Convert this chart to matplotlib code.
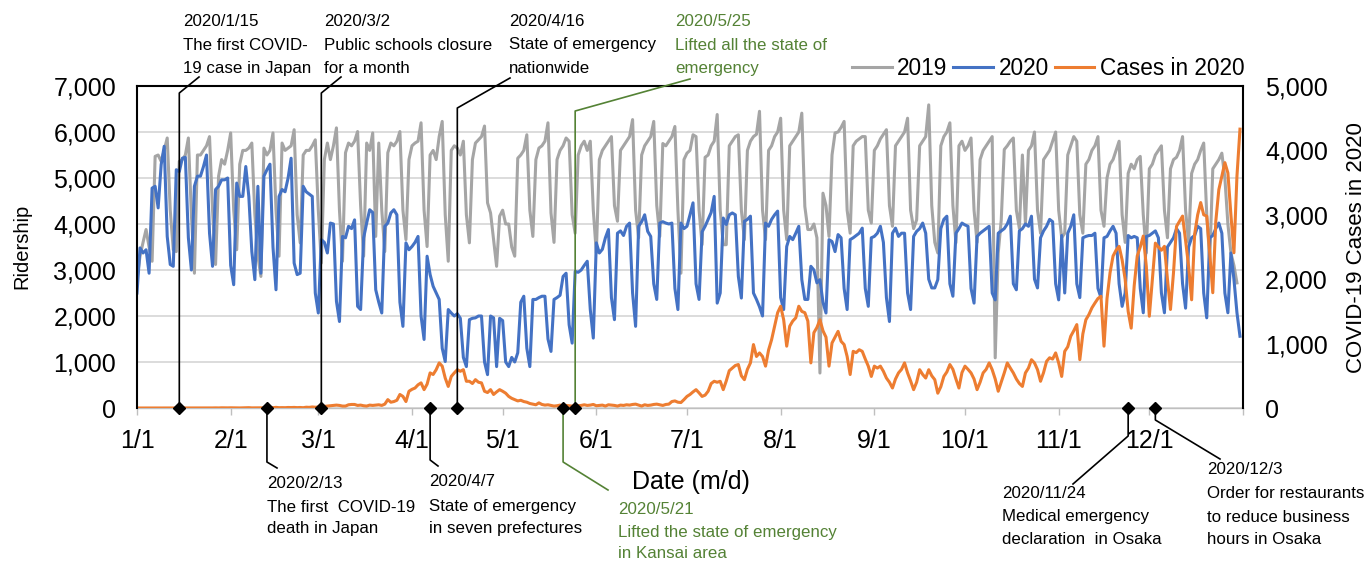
import datetime as dt
import matplotlib
matplotlib.use("Agg")
import matplotlib.pyplot as plt
from matplotlib.lines import Line2D

plt.rcParams['font.family'] = ['Liberation Sans', 'DejaVu Sans']

# ---------------- data ----------------
ridership_2019 = [
    2800, 3300, 3600, 3880, 3500, 3190,                 # Jan 1-6
    5470, 5500, 5360, 5600, 5870, 4300, 3440,           # Jan 7-13
    3400, 5360, 5400, 5500, 5870, 4200, 2930,           # Jan 14-20
    5500, 5500, 5600, 5700, 5900, 4300, 3120,           # Jan 21-27
    5040, 5400, 5300, 5600, 5980, 4300, 3440,           # Jan 28-Feb 3
    5300, 5600, 5600, 5650, 5760, 4200, 3300,           # Feb 4-10
    2860, 5650, 5500, 5600, 5980, 4300, 3300,           # Feb 11-17
    5760, 5600, 5650, 5700, 6050, 4200, 3590,           # Feb 18-24
    5500, 5600, 5600, 5700, 5830, 4300, 3150,           # Feb 25-Mar 3
    5400, 5760, 5400, 5700, 6090, 4300, 3190,           # Mar 4-10
    5550, 5760, 5700, 5800, 6010, 4400, 3300,           # Mar 11-17
    5760, 5600, 5980, 3730, 5760, 4300, 3400,           # Mar 18-24
    5550, 5760, 5700, 5800, 6010, 4300, 3660,           # Mar 25-31
    5400, 5700, 5760, 5800, 6200, 4300, 3510,           # Apr 1-7
    5500, 5600, 5400, 5900, 6230, 4200, 3190,           # Apr 8-14
    5600, 5700, 5650, 5500, 5800, 4200, 3590,           # Apr 15-21
    5400, 5760, 5830, 5900, 6130, 4460, 4240,           # Apr 22-28
    3660, 3080, 4170, 4300, 4000, 4000, 3500,           # Apr 29-May 5
    3300, 5430, 5500, 5600, 5940, 4300, 3730,           # May 6-12
    5400, 5650, 5700, 5800, 6200, 4240, 3600,           # May 13-19
    5400, 5600, 5700, 5870, 5800, 4200, 3800,           # May 20-26
    5500, 5700, 5800, 5600, 5800, 4300, 3370,           # May 27-Jun 2
    5400, 5600, 5700, 5800, 5900, 4400, 4060,           # Jun 3-9
    5600, 5700, 5800, 5900, 6270, 4300, 3700,           # Jun 10-16
    5500, 5700, 5800, 5900, 6230, 4400, 3730,           # Jun 17-23
    5750, 5700, 5800, 5900, 6120, 4300, 2930,           # Jun 24-30
    5400, 5540, 5600, 5940, 5900, 4300, 3550,           # Jul 1-7
    5450, 5500, 5700, 5800, 6380, 4300, 3550,           # Jul 8-14
    3550, 5700, 5800, 5900, 5940, 4300, 3660,           # Jul 15-21
    5600, 5800, 5900, 5950, 6450, 4300, 3660,           # Jul 22-28
    5600, 5700, 5900, 6000, 6300, 4300, 3660,           # Jul 29-Aug 4
    5700, 5800, 5900, 6000, 6410, 4380, 3880,           # Aug 5-11
    3880, 4000, 3700, 760, 4670, 4400, 3730,            # Aug 12-18
    5500, 5980, 6000, 6100, 6230, 4300, 3800,           # Aug 19-25
    5700, 5800, 5850, 5900, 5900, 4300, 4020,           # Aug 26-Sep 1
    5600, 5700, 5850, 5950, 6050, 4400, 3950,           # Sep 2-8
    5700, 5800, 5900, 6000, 6300, 4300, 3900,           # Sep 9-15
    4090, 5700, 5800, 5900, 6590, 4400, 3600,           # Sep 16-22
    3370, 5700, 5900, 6000, 6200, 4400, 3590,           # Sep 23-29
    5700, 5800, 5600, 5700, 5870, 4300, 3600,           # Sep 30-Oct 6
    5400, 5600, 5700, 5800, 5900, 1090, 3370,           # Oct 7-13
    4090, 5620, 5700, 5800, 5870, 4300, 3900,           # Oct 14-20
    5500, 4000, 5600, 5700, 6000, 4300, 3800,           # Oct 21-27
    5400, 5500, 5600, 5800, 6000, 4300, 3700,           # Oct 28-Nov 3
    3800, 5500, 5700, 5900, 5800, 4200, 3800,           # Nov 4-10
    5300, 5400, 5600, 5700, 5900, 4300, 3950,           # Nov 11-17
    5000, 5300, 5400, 5600, 5800, 4200, 3600,           # Nov 18-24
    5100, 5300, 5200, 5400, 5470, 4200, 3370,           # Nov 25-Dec 1
    5200, 5300, 5500, 5600, 5700, 4300, 3700,           # Dec 2-8
    5200, 5400, 5450, 5600, 5900, 4300, 3600,           # Dec 9-15
    5100, 5300, 5400, 5600, 5760, 4200, 3220,           # Dec 16-22
    5200, 5300, 5400, 5540, 5000, 4000, 3370,           # Dec 23-29
    3100, 2720,                                         # Dec 30-31
]

ridership_2020 = [
    2500, 3480, 3370, 3440, 2930,                       # Jan 1-5
    4780, 4820, 4350, 5290, 5690, 3730, 3120,           # Jan 6-12
    3080, 5180, 5140, 5430, 5450, 3700, 3000,           # Jan 13-19
    4820, 5040, 5040, 5250, 5500, 3800, 3080,           # Jan 20-26
    4750, 4820, 4960, 4960, 5000, 3100, 2680,           # Jan 27-Feb 2
    4890, 4600, 4600, 5250, 4600, 3400, 2790,           # Feb 3-9
    4820, 2930, 5040, 5180, 5300, 3500, 2570,           # Feb 10-16
    4600, 4750, 4700, 5000, 5430, 3150, 2900,           # Feb 17-23
    2930, 4820, 4700, 4650, 4600, 2500, 2065,           # Feb 24-Mar 1
    3660, 3600, 3370, 4020, 4000, 2320, 1880,           # Mar 2-8
    3730, 3700, 3950, 3900, 4090, 2210, 2140,           # Mar 9-15
    3700, 4020, 4310, 4250, 2570, 2300, 2065,           # Mar 16-22
    3950, 4020, 4240, 4310, 4200, 2300, 1775,           # Mar 23-29
    3590, 3440, 3510, 3600, 3730, 2000, 1490,           # Mar 30-Apr 5
    3300, 2900, 2645, 2500, 2360, 1300, 1010,           # Apr 6-12
    2140, 2065, 2000, 2050, 1950, 1100, 900,            # Apr 13-19
    1920, 1950, 1960, 2000, 2000, 1000, 725,            # Apr 20-26
    2000, 1960, 900, 1950, 1900, 1000, 900,             # Apr 27-May 3
    1100, 1000, 1200, 2300, 2430, 1300, 900,            # May 4-10
    2360, 2360, 2400, 2430, 2430, 1500, 1230,           # May 11-17
    2360, 2400, 2450, 2860, 2930, 1810, 1410,           # May 18-24
    2970, 2950, 3000, 3100, 3190, 2140, 1520,           # May 25-31
    3590, 3370, 3450, 3700, 3880, 2400, 1920,           # Jun 1-7
    3800, 3850, 3750, 3950, 4020, 2500, 1775,           # Jun 8-14
    3950, 4050, 4200, 3840, 3730, 2700, 2360,           # Jun 15-21
    4020, 4050, 4020, 4000, 4020, 2600, 2140,           # Jun 22-28
    4020, 3900, 3950, 4200, 4460, 2700, 2360,           # Jun 29-Jul 5
    3830, 3950, 4100, 4250, 4600, 2280, 2500,           # Jul 6-12
    4130, 3990, 4200, 4240, 4200, 2860, 2390,           # Jul 13-19
    4060, 4100, 4170, 2500, 2360, 2200, 2000,           # Jul 20-26
    4020, 3950, 4100, 4200, 4280, 2400, 2140,           # Jul 27-Aug 2
    3510, 3730, 3660, 3800, 3950, 2790, 2360,           # Aug 3-9
    2360, 3080, 3000, 2720, 2790, 2300, 2065,           # Aug 10-16
    3660, 3620, 3400, 3770, 3700, 2600, 2140,           # Aug 17-23
    3660, 3700, 3750, 3800, 3910, 2600, 2210,           # Aug 24-30
    3700, 3730, 3800, 3950, 3600, 2400, 1880,           # Aug 31-Sep 6
    3800, 3910, 3730, 3800, 3800, 2500, 2140,           # Sep 7-13
    3730, 3840, 3900, 4020, 3800, 2800, 2610,           # Sep 14-20
    2610, 2790, 3900, 4100, 4170, 2700, 2430,           # Sep 21-27
    3800, 3900, 4020, 3980, 3950, 2600, 2280,           # Sep 28-Oct 4
    3730, 3800, 3850, 3900, 3950, 2500, 2350,           # Oct 5-11
    3800, 3850, 3900, 4000, 4170, 2700, 2570,           # Oct 12-18
    3850, 3900, 4000, 3950, 4170, 2800, 2610,           # Oct 19-25
    3700, 3850, 3950, 4100, 4050, 2700, 2350,           # Oct 26-Nov 1
    3750, 2500, 3800, 3950, 4200, 2700, 2400,           # Nov 2-8
    3700, 3730, 3750, 3750, 3800, 2600, 2400,           # Nov 9-15
    3700, 3730, 3850, 3950, 3800, 2700, 2210,           # Nov 16-22
    2500, 3750, 3700, 3730, 3700, 2600, 2070,           # Nov 23-29
    3730, 3750, 3800, 3850, 3700, 2500, 2070,           # Nov 30-Dec 6
    3500, 3600, 3700, 3900, 3800, 2700, 2170,           # Dec 7-13
    3500, 3700, 3750, 3950, 3900, 2500, 1960,           # Dec 14-20
    3700, 3750, 3900, 4020, 3800, 2500, 2070,           # Dec 21-27
    3370, 2800, 2070, 1560,                             # Dec 28-31
]

cases_2020 = [
    # Jan
    0, 0, 0, 0, 0, 0, 0, 0, 0, 0, 0, 0, 0, 0, 1, 0, 1, 0, 0, 0,
    0, 0, 1, 1, 1, 1, 2, 1, 3, 2, 2,
    # Feb
    3, 2, 2, 1, 2, 3, 5, 2, 2, 3, 2, 3, 4, 8, 5, 10, 5, 6, 5, 8,
    7, 9, 6, 8, 5, 12, 10, 16, 12,
    # Mar
    15, 20, 25, 30, 35, 40, 45, 40, 30, 30, 50, 55, 55, 40, 45, 35, 30, 45, 40, 45,
    50, 40, 60, 130, 90, 100, 120, 210, 180, 100, 260,
    # Apr
    290, 310, 360, 390, 285, 370, 545, 520, 595, 700, 650, 465, 335, 490, 545, 595, 570, 595, 415, 415,
    380, 440, 400, 390, 260, 240, 285, 210, 250, 285,
    # May
    260, 230, 180, 150, 130, 110, 120, 100, 90, 70, 60, 50, 80, 55, 45, 50, 40, 30, 35, 45,
    30, 40, 35, 30, 20, 35, 40, 50, 40, 45, 55,
    # Jun
    35, 40, 45, 30, 50, 45, 40, 30, 45, 40, 50, 45, 55, 60, 45, 30, 50, 40, 45, 55,
    60, 50, 40, 55, 60, 100, 110, 90, 85, 130,
    # Jul
    180, 210, 250, 285, 235, 180, 200, 260, 380, 415, 400, 415, 285, 420, 580, 620, 660, 675, 500, 440,
    600, 700, 985, 800, 855, 800, 650, 900, 1060, 1270, 1480,
    # Aug
    1580, 1370, 960, 1270, 1350, 1400, 1580, 1500, 1480, 1350, 700, 1170, 1250, 1370, 1200, 1100, 650, 1010, 1100, 1190,
    1035, 985, 800, 520, 880, 860, 905, 880, 760, 650, 490,
    # Sep
    650, 620, 650, 570, 465, 400, 310, 450, 545, 600, 700, 545, 420, 285, 400, 595, 520, 465, 595, 500,
    440, 230, 330, 490, 560, 675, 600, 450, 310, 550,
    # Oct
    650, 600, 545, 450, 285, 400, 545, 600, 700, 595, 450, 260, 400, 545, 700, 620, 545, 450, 380, 335,
    545, 620, 750, 700, 595, 415, 550, 725, 780, 760, 855,
    # Nov
    700, 490, 880, 950, 1115, 1200, 1295, 750, 1150, 1370, 1450, 1555, 1630, 1700, 1735, 960, 1700, 2100, 2360, 2450,
    2510, 2300, 2000, 1500, 1240, 1900, 2360, 2500, 2670, 2200,
    # Dec
    1425, 2000, 2560, 2500, 2450, 2510, 2000, 1530, 2100, 2820, 2900, 2980, 2600, 2200, 1680, 2700, 3000, 3190, 3000, 2980,
    2400, 1790, 2900, 3390, 3600, 3810, 3650, 3000, 2410, 3600, 4330,
]

month_labels = ['1/1', '2/1', '3/1', '4/1', '5/1', '6/1', '7/1', '8/1', '9/1', '10/1', '11/1', '12/1']
left_ticks = [0, 1000, 2000, 3000, 4000, 5000, 6000, 7000]
right_ticks = [0, 1000, 2000, 3000, 4000, 5000]
series_labels = ['2019', '2020', 'Cases in 2020']

# events: date, text lines, colour, text x, text line y's, bend y, leader end (x, y)   [pixels]
events = [
    ('2020/1/15', ['2020/1/15', 'The first COVID-', '19 case in Japan'], 'black', 183, [21, 45, 68], 93, (199, 77)),
    ('2020/3/2', ['2020/3/2', 'Public schools closure', 'for a month'], 'black', 324, [21, 45, 68], 93, (341, 77)),
    ('2020/4/16', ['2020/4/16', 'State of emergency', 'nationwide'], 'black', 509, [21, 45, 68], 108, (510, 78)),
    ('2020/5/25', ['2020/5/25', 'Lifted all the state of', 'emergency'], 'green', 675, [21, 45, 68], 111, (690, 79)),
    ('2020/2/13', ['2020/2/13', 'The first  COVID-19', 'death in Japan'], 'black', 267, [483, 507, 529], 462, (277, 468)),
    ('2020/4/7', ['2020/4/7', 'State of emergency', 'in seven prefectures'], 'black', 429, [482, 506, 528], 460, (438, 466)),
    ('2020/5/21', ['2020/5/21', 'Lifted the state of emergency', 'in Kansai area'], 'green', 618, [509, 532, 554], 462, (608, 490)),
    ('2020/11/24', ['2020/11/24', 'Medical emergency', 'declaration  in Osaka'], 'black', 1002, [493, 517, 540], 436, (1073, 484)),
    ('2020/12/3', ['2020/12/3', 'Order for restaurants', 'to reduce business', 'hours in Osaka'], 'black', 1207, [470, 494, 517, 540], 420, (1220, 459)),
]

# ---------------- style ----------------
W, H = 1371, 562
C19, C20, CCASE = '#A5A5A5', '#4472C4', '#ED7D31'
GREEN = '#548235'
COLORS = {'black': 'black', 'green': GREEN}
BASE = dt.date(2020, 1, 1)
TICK_FS = 18


def day_index(s):
    y, m, d = (int(v) for v in s.split('/'))
    return (dt.date(y, m, d) - BASE).days


month_starts = [(dt.date(2020, m, 1) - BASE).days for m in range(1, 13)]
n_days = (dt.date(2021, 1, 1) - BASE).days

fig = plt.figure(figsize=(W / 100, H / 100), dpi=100)
ax = fig.add_axes([137 / W, 1 - 408 / H, (1243 - 137) / W, (408 - 86) / H])
ax2 = ax.twinx()

l19, = ax.plot(range(len(ridership_2019)), ridership_2019, color=C19, lw=2.2, zorder=2)
l20, = ax.plot(range(len(ridership_2020)), ridership_2020, color=C20, lw=2.2, zorder=3)
lc, = ax2.plot(range(len(cases_2020)), cases_2020, color=CCASE, lw=2.2, zorder=2)

ax.set_xlim(0, n_days)
ax.set_ylim(0, 7000)
ax2.set_ylim(0, 5000)

ax.set_yticks(left_ticks)
ax.set_yticklabels([f'{v:,}' for v in left_ticks])
ax2.set_yticks(right_ticks)
ax2.set_yticklabels([f'{v:,}' for v in right_ticks])
ax.set_xticks(month_starts + [n_days])
ax.set_xticklabels(month_labels + [''])

ax.yaxis.grid(True, color='#D9D9D9', lw=1.3)
ax.set_axisbelow(True)
ax.tick_params(axis='x', length=5, width=1, color='#BFBFBF', pad=10, labelsize=TICK_FS)
ax.tick_params(axis='y', length=0, pad=15, labelsize=TICK_FS)
ax2.tick_params(axis='y', length=0, pad=16, labelsize=TICK_FS)

for s in ax.spines.values():
    s.set_visible(False)
ax.spines['bottom'].set_visible(True)
ax.spines['bottom'].set_color('#BFBFBF')
ax.spines['bottom'].set_linewidth(1.0)
for name in ['top', 'left', 'right']:
    ax2.spines[name].set_color('black')
    ax2.spines[name].set_linewidth(1.5)
ax2.spines['bottom'].set_visible(False)

# event markers and leader lines
for date, lines, col, tx, tys, bend_y, end in events:
    d = day_index(date)
    xpix, ypix = ax.transData.transform((d, 0))
    pts = [(xpix, H - ypix), (xpix, bend_y), end]
    xs = [p[0] / W for p in pts]
    ys = [1 - p[1] / H for p in pts]
    ln = Line2D(xs, ys, transform=fig.transFigure, color=COLORS[col], lw=1.2,
                clip_on=False, zorder=5)
    ax2.add_line(ln)
    ax2.plot([d], [0], marker='D', color='black', markersize=6, clip_on=False, zorder=6)
    for y, s in zip(tys, lines):
        fig.text(tx / W, 1 - y / H, s, ha='left', va='center', color=COLORS[col], fontsize=12.2)

# axis titles
fig.text(22 / W, 1 - 246 / H, 'Ridership', rotation=90, ha='center', va='center', fontsize=14.5)
fig.text(1357 / W, 1 - 248 / H, 'COVID-19 Cases in 2020', rotation=90, ha='center', va='center', fontsize=16)
fig.text(632 / W, 1 - 482 / H, 'Date (m/d)', ha='left', va='center', fontsize=18)

fig.legend([l19, l20, lc], series_labels, loc='center left', bbox_to_anchor=(852 / W, 1 - 68 / H),
           ncol=3, frameon=False, fontsize=16.3, handlelength=1.75, handletextpad=0.25,
           columnspacing=0.25, borderaxespad=0, borderpad=0)

fig.savefig('out.png', dpi=100)
